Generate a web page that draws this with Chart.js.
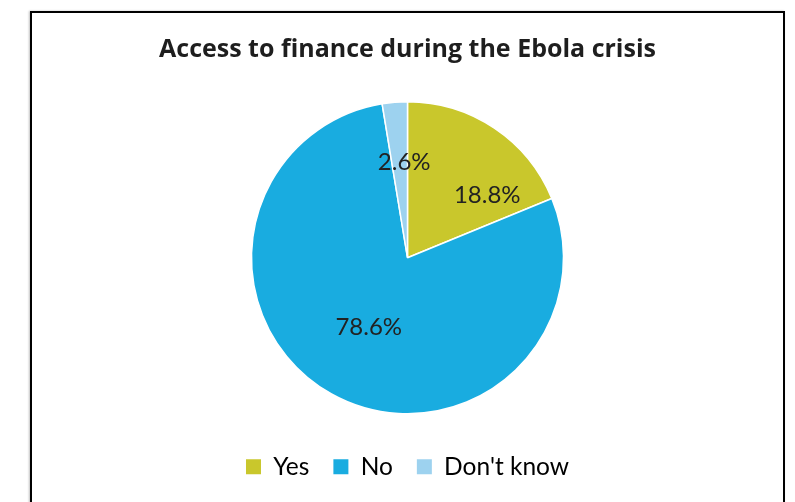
<!DOCTYPE html>
<html>
<head>
<meta charset="utf-8">
<script src="https://cdn.jsdelivr.net/npm/chart.js@4"></script>
<style>
    html, body { margin: 0; padding: 0; background: #fff; overflow: hidden; }
    .frame {
        position: absolute;
        left: 30px;
        top: 11px;
        width: 751px;
        height: 520px;
        border: 2px solid #000;
        box-shadow: -1px 0 2px rgba(0, 0, 0, 0.25);
    }
    canvas { display: block; }
</style>
</head>
<body>
<div class="frame">
    <canvas id="pieChart" width="751" height="490"></canvas>
</div>
<script>
const categories = ['Yes', 'No', "Don't know"];
const shares = [18.8, 78.6, 2.6];
const sliceColors = ['#C9C72C', '#19ACE0', '#9DD2EF'];

// label placement per slice: fraction of radius, angular nudge in degrees
const labelRadius = [0.65, 0.51, 0.61];
const labelNudge = [18, 0, 2.7];

const FONT = "Lato, 'Open Sans', sans-serif";
const TITLE_FONT = "'Open Sans', Lato, sans-serif";

const sliceLabels = {
    id: 'sliceLabels',
    afterDatasetsDraw(chart) {
        const { ctx } = chart;
        const meta = chart.getDatasetMeta(0);
        ctx.save();
        ctx.font = `24px ${FONT}`;
        ctx.fillStyle = '#222222';
        ctx.textAlign = 'center';
        ctx.textBaseline = 'middle';
        meta.data.forEach((arc, i) => {
            const { x, y, startAngle, endAngle, outerRadius } = arc.getProps(['x', 'y', 'startAngle', 'endAngle', 'outerRadius'], true);
            const mid = (startAngle + endAngle) / 2 + labelNudge[i] * Math.PI / 180;
            const r = outerRadius * labelRadius[i];
            ctx.fillText(shares[i].toFixed(1) + '%', x + Math.cos(mid) * r, y + Math.sin(mid) * r);
        });
        ctx.restore();
    }
};

const ctx = document.getElementById('pieChart').getContext('2d');
new Chart(ctx, {
    type: 'pie',
    data: {
        labels: categories,
        datasets: [{
            data: shares,
            backgroundColor: sliceColors,
            borderColor: '#ffffff',
            borderWidth: 1.5
        }]
    },
    options: {
        responsive: false,
        animation: false,
        radius: 156,
        layout: { padding: { bottom: 14 } },
        plugins: {
            title: {
                display: true,
                text: 'Access to finance during the Ebola crisis',
                color: '#1e1e1e',
                font: { family: TITLE_FONT, size: 25, weight: 'bold' },
                padding: { top: 22, bottom: 20 }
            },
            legend: {
                position: 'bottom',
                labels: {
                    color: '#222222',
                    font: { family: FONT, size: 24.5 },
                    boxWidth: 15,
                    boxHeight: 15,
                    padding: 24,
                    generateLabels: (chart) => categories.map((name, i) => ({
                        text: name,
                        fillStyle: sliceColors[i],
                        strokeStyle: sliceColors[i],
                        lineWidth: 0,
                        index: i
                    }))
                }
            },
            tooltip: { enabled: false }
        }
    },
    plugins: [sliceLabels]
});
</script>
</body>
</html>
